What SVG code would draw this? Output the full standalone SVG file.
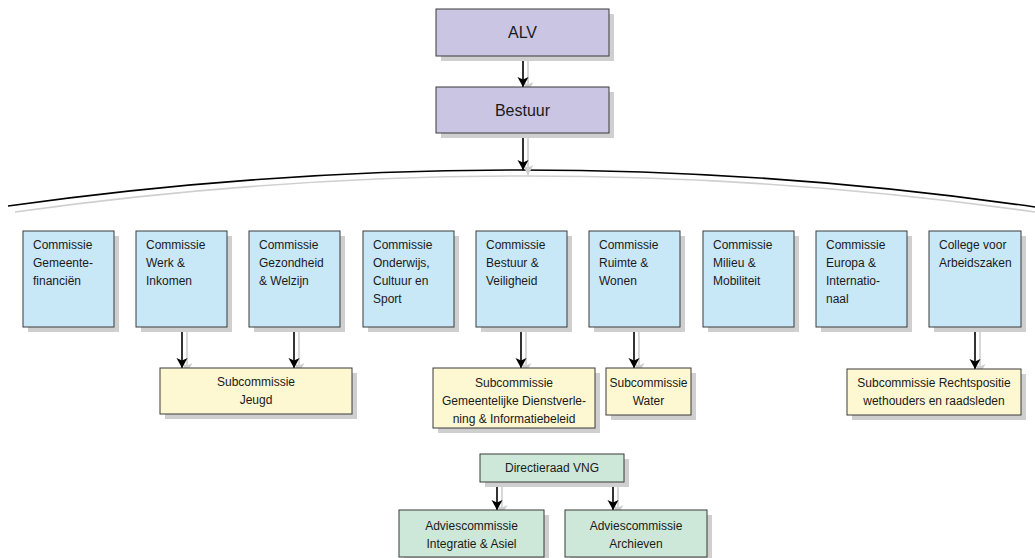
<svg xmlns="http://www.w3.org/2000/svg" width="1035" height="558" viewBox="0 0 1035 558">
<style>
.sh{fill:#cfcfcf;stroke:none}
.b{stroke:#3a3a3a;stroke-width:1}
.p{fill:#c9c5e2}
.c{fill:#c8e8f8}
.y{fill:#fdf7d2}
.g{fill:#cde8d8}
text{font-family:"Liberation Sans",Arial,sans-serif;font-size:12px;fill:#1a1a1a}
.m{text-anchor:middle}
.big{font-size:16px}
.ln{stroke:#000;stroke-width:1.6;fill:none}
.lns{stroke:#cfcfcf;stroke-width:1.6;fill:none}
</style>
<defs>
<marker id="ah" markerUnits="userSpaceOnUse" markerWidth="12" markerHeight="12" refX="10" refY="6" orient="auto">
<path d="M0,0.5 L10,6 L0,11.5 L2.5,6 z" fill="#000"/>
</marker>
<marker id="ahs" markerUnits="userSpaceOnUse" markerWidth="12" markerHeight="12" refX="10" refY="6" orient="auto">
<path d="M0,0.5 L10,6 L0,11.5 L2.5,6 z" fill="#cfcfcf"/>
</marker>
</defs>
<g id="connectors">
<path class="lns" d="M15,212 Q531.5,139.5 1042,213"/>
<path class="ln" d="M8,206 Q524.5,133.5 1035,207" stroke-width="1.8"/>
<g>
<line class="lns" x1="528" y1="61" x2="528" y2="92" marker-end="url(#ahs)"/>
<line class="lns" x1="528" y1="138" x2="528" y2="175" marker-end="url(#ahs)"/>
<line class="lns" x1="187" y1="332" x2="187" y2="373" marker-end="url(#ahs)"/>
<line class="lns" x1="299" y1="332" x2="299" y2="373" marker-end="url(#ahs)"/>
<line class="lns" x1="526" y1="332" x2="526" y2="373" marker-end="url(#ahs)"/>
<line class="lns" x1="639" y1="332" x2="639" y2="373" marker-end="url(#ahs)"/>
<line class="lns" x1="980" y1="332" x2="980" y2="374" marker-end="url(#ahs)"/>
<line class="lns" x1="502" y1="487" x2="502" y2="515" marker-end="url(#ahs)"/>
<line class="lns" x1="618" y1="487" x2="618" y2="515" marker-end="url(#ahs)"/>
</g>
<line class="ln" x1="523" y1="56" x2="523" y2="87" marker-end="url(#ah)"/>
<line class="ln" x1="523" y1="133" x2="523" y2="170" marker-end="url(#ah)"/>
<line class="ln" x1="182" y1="327" x2="182" y2="368" marker-end="url(#ah)"/>
<line class="ln" x1="294" y1="327" x2="294" y2="368" marker-end="url(#ah)"/>
<line class="ln" x1="521" y1="327" x2="521" y2="368" marker-end="url(#ah)"/>
<line class="ln" x1="634" y1="327" x2="634" y2="368" marker-end="url(#ah)"/>
<line class="ln" x1="975" y1="327" x2="975" y2="369" marker-end="url(#ah)"/>
<line class="ln" x1="497" y1="482" x2="497" y2="510" marker-end="url(#ah)"/>
<line class="ln" x1="613" y1="482" x2="613" y2="510" marker-end="url(#ah)"/>
</g>
<g id="alv"><rect class="sh" x="441" y="14" width="173" height="47"/><rect class="b p" x="436" y="9" width="173" height="47"/><text class="m big" x="522.5" y="38">ALV</text></g>
<g id="bestuur"><rect class="sh" x="441" y="92" width="173" height="46"/><rect class="b p" x="436" y="87" width="173" height="46"/><text class="m big" x="522.5" y="116">Bestuur</text></g>
<g id="c1"><rect class="sh" x="28" y="236" width="91" height="96"/><rect class="b c" x="23" y="231" width="91" height="96"/><text x="33" y="249">Commissie</text><text x="33" y="267">Gemeente-</text><text x="33" y="285">financiën</text></g>
<g id="c2"><rect class="sh" x="141" y="236" width="91" height="96"/><rect class="b c" x="136" y="231" width="91" height="96"/><text x="146" y="249">Commissie</text><text x="146" y="267">Werk &amp;</text><text x="146" y="285">Inkomen</text></g>
<g id="c3"><rect class="sh" x="254" y="236" width="91" height="96"/><rect class="b c" x="249" y="231" width="91" height="96"/><text x="259" y="249">Commissie</text><text x="259" y="267">Gezondheid</text><text x="259" y="285">&amp; Welzijn</text></g>
<g id="c4"><rect class="sh" x="368" y="236" width="91" height="96"/><rect class="b c" x="363" y="231" width="91" height="96"/><text x="373" y="249">Commissie</text><text x="373" y="267">Onderwijs,</text><text x="373" y="285">Cultuur en</text><text x="373" y="303">Sport</text></g>
<g id="c5"><rect class="sh" x="481" y="236" width="91" height="96"/><rect class="b c" x="476" y="231" width="91" height="96"/><text x="486" y="249">Commissie</text><text x="486" y="267">Bestuur &amp;</text><text x="486" y="285">Veiligheid</text></g>
<g id="c6"><rect class="sh" x="594" y="236" width="91" height="96"/><rect class="b c" x="589" y="231" width="91" height="96"/><text x="599" y="249">Commissie</text><text x="599" y="267">Ruimte &amp;</text><text x="599" y="285">Wonen</text></g>
<g id="c7"><rect class="sh" x="708" y="236" width="91" height="96"/><rect class="b c" x="703" y="231" width="91" height="96"/><text x="713" y="249">Commissie</text><text x="713" y="267">Milieu &amp;</text><text x="713" y="285">Mobiliteit</text></g>
<g id="c8"><rect class="sh" x="821" y="236" width="91" height="96"/><rect class="b c" x="816" y="231" width="91" height="96"/><text x="826" y="249">Commissie</text><text x="826" y="267">Europa &amp;</text><text x="826" y="285">Internatio-</text><text x="826" y="303">naal</text></g>
<g id="c9"><rect class="sh" x="934" y="236" width="92" height="96"/><rect class="b c" x="929" y="231" width="92" height="96"/><text x="939" y="249">College voor</text><text x="939" y="267">Arbeidszaken</text></g>
<g id="s1"><rect class="sh" x="165" y="373" width="192" height="46"/><rect class="b y" x="160" y="368" width="192" height="46"/><text class="m" x="256" y="386">Subcommissie</text><text class="m" x="256" y="404">Jeugd</text></g>
<g id="s2"><rect class="sh" x="438" y="373" width="162" height="60"/><rect class="b y" x="433" y="368" width="162" height="60"/><text class="m" x="514" y="387">Subcommissie</text><text class="m" x="514" y="405">Gemeentelijke Dienstverle-</text><text class="m" x="514" y="423">ning &amp; Informatiebeleid</text></g>
<g id="s3"><rect class="sh" x="611" y="373" width="85" height="47"/><rect class="b y" x="606" y="368" width="85" height="47"/><text class="m" x="648.5" y="387">Subcommissie</text><text class="m" x="648.5" y="405">Water</text></g>
<g id="s4"><rect class="sh" x="852" y="374" width="174" height="46"/><rect class="b y" x="847" y="369" width="174" height="46"/><text class="m" x="934" y="387">Subcommissie Rechtspositie</text><text class="m" x="934" y="405">wethouders en raadsleden</text></g>
<g id="d"><rect class="sh" x="485" y="459" width="144" height="28"/><rect class="b g" x="480" y="454" width="144" height="28"/><text class="m" x="552" y="472">Directieraad VNG</text></g>
<g id="a1"><rect class="sh" x="404" y="515" width="145" height="47"/><rect class="b g" x="399" y="510" width="145" height="47"/><text class="m" x="471.5" y="530">Adviescommissie</text><text class="m" x="471.5" y="548">Integratie &amp; Asiel</text></g>
<g id="a2"><rect class="sh" x="570" y="515" width="142" height="47"/><rect class="b g" x="565" y="510" width="142" height="47"/><text class="m" x="636" y="530">Adviescommissie</text><text class="m" x="636" y="548">Archieven</text></g>
</svg>
